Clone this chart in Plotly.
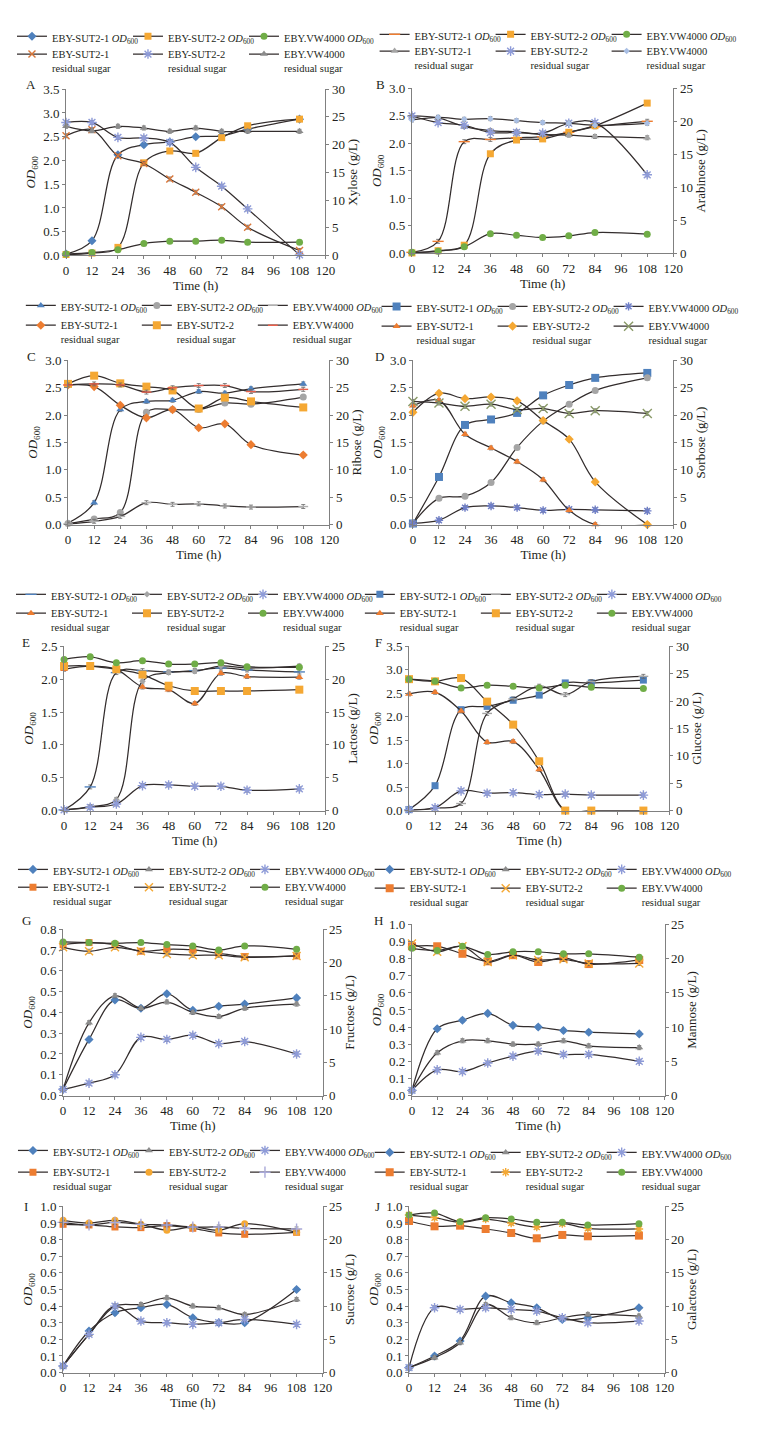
import plotly.graph_objects as go

OFF = 8                      # default page body margin
W, H = 760 - OFF, 1438 - OFF
FONT = "Liberation Serif"
TXT = "#231f20"
AXC = "#808080"
LINEC = "#332d2d"

TIME = [0, 12, 24, 36, 48, 60, 72, 84, 108]
X_TICKS = [0, 12, 24, 36, 48, 60, 72, 84, 96, 108, 120]
STRAINS = ["EBY-SUT2-1", "EBY-SUT2-2", "EBY.VW4000"]
PANEL_LABELS = ["A", "B", "C", "D", "E", "F", "G", "H", "I", "J"]
SUGARS = ["Xylose", "Arabinose", "Ribose", "Sorbose", "Lactose",
          "Glucose", "Fructose", "Mannose", "Sucrose", "Galactose"]
OD_MAX = [3.5, 3.0, 3.0, 3.0, 2.5, 3.5, 0.8, 1.0, 1.0, 1.0]
SUG_MAX = [30, 25, 30, 30, 25, 30, 25, 25, 25, 25]

# ---- A: xylose ----
A_OD_1 = [0.03, 0.31, 2.12, 2.33, 2.39, 2.50, 2.52, 2.66, 2.87]
A_OD_2 = [0.02, 0.05, 0.17, 1.95, 2.20, 2.15, 2.48, 2.73, 2.87]
A_OD_W = [0.03, 0.06, 0.12, 0.25, 0.30, 0.30, 0.32, 0.28, 0.28]
A_SUG_1 = [21.6, 22.7, 18.0, 16.6, 13.8, 11.4, 8.8, 5.1, 0.9]
A_SUG_2 = [24.0, 24.0, 21.3, 21.2, 20.4, 15.9, 12.5, 8.4, 0.1]
A_SUG_W = [23.3, 22.5, 23.3, 23.0, 22.4, 23.0, 22.4, 22.4, 22.4]
# ---- B: arabinose ----
B_OD_1 = [0.02, 0.22, 2.03, 2.07, 2.10, 2.12, 2.20, 2.30, 2.40]
B_OD_2 = [0.01, 0.05, 0.15, 1.81, 2.06, 2.08, 2.20, 2.32, 2.73]
B_OD_W = [0.02, 0.04, 0.12, 0.36, 0.33, 0.29, 0.32, 0.38, 0.35]
B_SUG_1 = [20.8, 20.5, 19.2, 18.6, 18.4, 18.0, 17.9, 17.7, 17.5]
B_SUG_2 = [20.8, 19.8, 19.4, 18.3, 18.3, 18.2, 19.7, 19.8, 11.9]
B_SUG_W = [20.2, 20.6, 20.3, 20.4, 20.1, 19.8, 19.7, 19.4, 19.7]
# ---- C: ribose ----
C_OD_1 = [0.03, 0.40, 2.10, 2.25, 2.27, 2.43, 2.40, 2.48, 2.57]
C_OD_2 = [0.02, 0.10, 0.22, 2.05, 2.10, 2.10, 2.22, 2.20, 2.33]
C_OD_W = [0.01, 0.06, 0.15, 0.40, 0.37, 0.38, 0.34, 0.32, 0.33]
C_SUG_1 = [25.5, 25.2, 21.8, 19.5, 21.0, 17.7, 18.4, 14.6, 12.7]
C_SUG_2 = [25.7, 27.2, 25.8, 25.2, 24.5, 21.2, 23.2, 22.5, 21.4]
C_SUG_W = [25.5, 25.7, 25.5, 24.2, 25.0, 25.4, 25.4, 24.3, 24.7]
# ---- D: sorbose ----
D_OD_1 = [0.02, 0.87, 1.82, 1.92, 2.04, 2.36, 2.55, 2.68, 2.77]
D_OD_2 = [0.02, 0.48, 0.52, 0.77, 1.41, 1.89, 2.20, 2.45, 2.68]
D_OD_W = [0.02, 0.08, 0.31, 0.34, 0.31, 0.26, 0.28, 0.27, 0.25]
D_SUG_1 = [21.7, 22.7, 16.5, 14.0, 11.5, 8.2, 2.6, 0.0, 0.0]
D_SUG_2 = [20.5, 24.0, 23.0, 23.3, 22.6, 19.0, 15.6, 7.8, 0.0]
D_SUG_W = [22.5, 22.2, 21.6, 22.0, 21.0, 21.2, 20.3, 20.8, 20.3]
# ---- E: lactose ----
E_OD_1 = [0.01, 0.36, 2.10, 2.13, 2.11, 2.13, 2.17, 2.14, 2.11]
E_OD_2 = [0.01, 0.06, 0.17, 1.97, 2.10, 2.12, 2.20, 2.17, 2.20]
E_OD_W = [0.01, 0.05, 0.10, 0.38, 0.39, 0.37, 0.37, 0.31, 0.33]
E_SUG_1 = [21.5, 22.0, 21.5, 18.8, 18.4, 16.3, 20.9, 20.4, 20.3]
E_SUG_2 = [22.0, 22.0, 21.5, 20.7, 19.0, 18.2, 18.2, 18.2, 18.4]
E_SUG_W = [23.0, 23.4, 22.5, 22.8, 22.3, 22.3, 22.5, 21.9, 21.8]
# ---- F: glucose ----
F_OD_1 = [0.02, 0.53, 2.15, 2.22, 2.35, 2.46, 2.72, 2.72, 2.78]
F_OD_2 = [0.00, 0.05, 0.15, 2.07, 2.38, 2.65, 2.47, 2.75, 2.86]
F_OD_W = [0.02, 0.06, 0.42, 0.37, 0.38, 0.34, 0.35, 0.33, 0.33]
F_SUG_1 = [21.3, 21.6, 18.2, 12.5, 12.6, 7.5, 0.0, 0.0, 0.0]
F_SUG_2 = [24.0, 23.6, 24.2, 19.9, 15.7, 9.0, 0.0, 0.0, 0.0]
F_SUG_W = [24.0, 23.6, 22.4, 22.9, 22.7, 22.4, 22.9, 22.5, 22.3]
# ---- G: fructose ----
G_OD_1 = [0.03, 0.27, 0.46, 0.42, 0.49, 0.41, 0.43, 0.44, 0.47]
G_OD_2 = [0.03, 0.35, 0.48, 0.42, 0.45, 0.40, 0.38, 0.42, 0.44]
G_OD_W = [0.03, 0.06, 0.10, 0.28, 0.27, 0.29, 0.25, 0.26, 0.20]
G_SUG_1 = [22.7, 23.0, 22.7, 21.7, 22.0, 21.9, 21.4, 20.9, 21.0]
G_SUG_2 = [22.3, 21.7, 22.3, 21.7, 21.3, 21.1, 21.1, 20.8, 21.0]
G_SUG_W = [23.1, 23.0, 22.9, 23.0, 22.7, 22.5, 21.9, 22.5, 22.0]
# ---- H: mannose ----
H_OD_1 = [0.03, 0.39, 0.44, 0.48, 0.41, 0.40, 0.38, 0.37, 0.36]
H_OD_2 = [0.03, 0.25, 0.32, 0.32, 0.30, 0.30, 0.32, 0.29, 0.28]
H_OD_W = [0.03, 0.15, 0.14, 0.19, 0.23, 0.26, 0.24, 0.24, 0.20]
H_SUG_1 = [21.8, 21.8, 20.7, 19.6, 20.5, 19.5, 20.1, 19.2, 19.8]
H_SUG_2 = [22.2, 21.0, 21.8, 19.5, 20.5, 19.8, 19.9, 19.3, 19.3]
H_SUG_W = [21.5, 21.2, 21.8, 20.6, 21.0, 21.0, 20.7, 20.7, 20.2]
# ---- I: sucrose ----
I_OD_1 = [0.04, 0.25, 0.36, 0.39, 0.41, 0.33, 0.30, 0.30, 0.50]
I_OD_2 = [0.04, 0.23, 0.40, 0.41, 0.45, 0.40, 0.39, 0.35, 0.44]
I_OD_W = [0.04, 0.23, 0.40, 0.31, 0.30, 0.29, 0.30, 0.32, 0.29]
I_SUG_1 = [22.3, 22.2, 21.9, 21.8, 22.1, 21.7, 21.0, 20.8, 21.1]
I_SUG_2 = [22.9, 22.5, 22.9, 22.3, 21.4, 21.9, 21.4, 22.4, 21.1]
I_SUG_W = [22.6, 22.2, 22.6, 22.3, 22.2, 21.9, 21.9, 21.7, 21.6]
# ---- J: galactose ----
J_OD_1 = [0.03, 0.10, 0.19, 0.46, 0.42, 0.39, 0.32, 0.33, 0.39]
J_OD_2 = [0.03, 0.09, 0.18, 0.41, 0.33, 0.30, 0.33, 0.35, 0.34]
J_OD_W = [0.03, 0.39, 0.38, 0.39, 0.38, 0.37, 0.33, 0.30, 0.31]
J_SUG_1 = [22.8, 22.0, 22.1, 21.6, 21.0, 20.2, 20.7, 20.5, 20.6]
J_SUG_2 = [23.7, 23.3, 22.6, 23.1, 22.5, 21.9, 22.4, 21.7, 21.6]
J_SUG_W = [23.7, 24.0, 22.7, 23.3, 23.1, 22.6, 22.6, 22.2, 22.4]

OD_DATA = [[A_OD_1, A_OD_2, A_OD_W], [B_OD_1, B_OD_2, B_OD_W], [C_OD_1, C_OD_2, C_OD_W],
           [D_OD_1, D_OD_2, D_OD_W], [E_OD_1, E_OD_2, E_OD_W], [F_OD_1, F_OD_2, F_OD_W],
           [G_OD_1, G_OD_2, G_OD_W], [H_OD_1, H_OD_2, H_OD_W], [I_OD_1, I_OD_2, I_OD_W],
           [J_OD_1, J_OD_2, J_OD_W]]
SUG_DATA = [[A_SUG_1, A_SUG_2, A_SUG_W], [B_SUG_1, B_SUG_2, B_SUG_W], [C_SUG_1, C_SUG_2, C_SUG_W],
            [D_SUG_1, D_SUG_2, D_SUG_W], [E_SUG_1, E_SUG_2, E_SUG_W], [F_SUG_1, F_SUG_2, F_SUG_W],
            [G_SUG_1, G_SUG_2, G_SUG_W], [H_SUG_1, H_SUG_2, H_SUG_W], [I_SUG_1, I_SUG_2, I_SUG_W],
            [J_SUG_1, J_SUG_2, J_SUG_W]]

# ---- styles ----
BLUE, ORANGE, GOLD, GREEN = "#4f81bd", "#ed7d31", "#f5a833", "#70ad47"
GRAY, DGRAY, LAV, LBLUE = "#a5a5a5", "#8c8c8c", "#8e9bd8", "#a9bfe4"
MARKERS = [
    [("diamond", BLUE, 7), ("square", GOLD, 7), ("circle", GREEN, 7), ("x-thin-open", "#d9773a", 7), ("asterisk-open", LAV, 8), ("triangle-up", DGRAY, 7)],
    [("line-ew-open", ORANGE, 8), ("square", GOLD, 7), ("circle", GREEN, 7), ("triangle-up", GRAY, 7), ("asterisk-open", LAV, 8), ("diamond", LBLUE, 5)],
    [("triangle-up", BLUE, 7), ("circle", GRAY, 7), ("line-ew-open", "#b0b0b0", 7), ("diamond", ORANGE, 7), ("square", GOLD, 8), ("line-ew-open", "#e8604c", 7)],
    [("square", BLUE, 8), ("circle", GRAY, 7), ("asterisk-open", "#6f7fc8", 7), ("triangle-up", ORANGE, 7), ("diamond", GOLD, 7), ("x-thin-open", "#8a9a68", 9)],
    [("line-ew-open", BLUE, 8), ("diamond", GRAY, 5), ("asterisk-open", LAV, 8), ("triangle-up", ORANGE, 7), ("square", GOLD, 8), ("circle", GREEN, 7)],
    [("square", BLUE, 7), ("line-ew-open", GRAY, 7), ("asterisk-open", LAV, 8), ("triangle-up", ORANGE, 7), ("square", GOLD, 8), ("circle", GREEN, 7)],
    [("diamond", BLUE, 7), ("triangle-up", DGRAY, 7), ("asterisk-open", LAV, 8), ("square", ORANGE, 7), ("x-thin-open", GOLD, 8), ("circle", GREEN, 7)],
    [("diamond", BLUE, 7), ("triangle-up", DGRAY, 7), ("asterisk-open", LAV, 8), ("square", ORANGE, 8), ("x-thin-open", GOLD, 8), ("circle", GREEN, 7)],
    [("diamond", BLUE, 7), ("triangle-up", DGRAY, 7), ("asterisk-open", LAV, 8), ("square", ORANGE, 7), ("circle", GOLD, 7), ("cross-thin-open", "#a8a8d8", 8)],
    [("diamond", BLUE, 7), ("triangle-up", DGRAY, 7), ("asterisk-open", LAV, 8), ("square", ORANGE, 8), ("asterisk-open", GOLD, 7), ("circle", GREEN, 7)],
]

# geometry in page pixels: plot x0, x1, y_top, y_bottom, label x, label y, legend x, legend row1 y, legend row2 y
GEOM = [
    (64, 328, 83, 251, 28, 78, 9, 31, 48),
    (416, 682, 82, 249, 384, 78, 378, 29, 45),
    (66, 332, 357, 523, 29, 353, 18, 303, 322),
    (417, 682, 357, 523, 383, 353, 380, 304, 323),
    (62, 328, 646, 812, 23, 642, 8, 595, 613),
    (413, 678, 646, 812, 382, 642, 363, 595, 613),
    (61, 325, 932, 1100, 24, 923, 10, 873, 890),
    (416, 673, 927, 1100, 382, 923, 373, 873, 891),
    (61, 325, 1212, 1380, 23, 1212, 10, 1157, 1178),
    (413, 673, 1212, 1380, 381, 1212, 373, 1159, 1178),
]

LEG_OFF1 = 15
LEG_OFF2 = 14

fig = go.Figure()
layout = dict(width=W, height=H, margin=dict(l=0, r=0, t=0, b=0), autosize=False,
              paper_bgcolor="white", plot_bgcolor="white",
              font=dict(family=FONT, size=13, color=TXT), annotations=[])


def px_x(v):
    return (v - OFF) / W


def px_y(v):
    return 1 - (v - OFF) / H


for i in range(10):
    x0, x1, yt, yb, lx, ly, legx, legy1, legy2 = GEOM[i]
    xn = "x" if i == 0 else f"x{i + 1}"
    yl = f"y{2 * i + 1}" if i > 0 else "y"
    yr = f"y{2 * i + 2}"
    xkey = "xaxis" if i == 0 else f"xaxis{i + 1}"
    ylkey = "yaxis" if i == 0 else f"yaxis{2 * i + 1}"
    yrkey = f"yaxis{2 * i + 2}"
    leg1 = "legend" if i == 0 else f"legend{2 * i + 1}"
    leg2 = f"legend{2 * i + 2}"

    axis_common = dict(showline=True, linecolor=AXC, linewidth=1, ticks="outside", ticklen=3,
                       tickcolor=AXC, showgrid=False, zeroline=False,
                       tickfont=dict(family=FONT, size=13, color=TXT))
    layout[xkey] = dict(domain=[px_x(x0), px_x(x1)], range=[0, 120], tickvals=X_TICKS,
                        anchor=yl, title=dict(text="Time (h)", standoff=0,
                                              font=dict(family=FONT, size=13, color=TXT)),
                        **axis_common)
    layout[ylkey] = dict(domain=[px_y(yb), px_y(yt)], range=[0, OD_MAX[i]],
                         dtick=0.5 if OD_MAX[i] > 2 else 0.1, tickformat=".1f", anchor=xn,
                         title=dict(text="<i>OD</i><sub>600</sub>", standoff=4,
                                    font=dict(family=FONT, size=13, color=TXT)),
                         **axis_common)
    layout[yrkey] = dict(domain=[px_y(yb), px_y(yt)], range=[0, SUG_MAX[i]], dtick=5,
                         overlaying=yl, side="right", anchor=xn,
                         title=dict(text=f"{SUGARS[i]} (g/L)", standoff=3,
                                    font=dict(family=FONT, size=13, color=TXT)),
                         **axis_common)

    for legname, ry, lo in [(leg1, legy1, LEG_OFF1), (leg2, legy2, LEG_OFF2)]:
        layout[legname] = dict(x=px_x(legx), y=px_y(ry - lo), xref="paper", yref="paper",
                               xanchor="left", yanchor="top", orientation="h",
                               entrywidth=71, entrywidthmode="pixels", itemwidth=30,
                               font=dict(family=FONT, size=10.5, color=TXT),
                               bgcolor="rgba(0,0,0,0)", borderwidth=0, valign="top",
                               traceorder="normal", tracegroupgap=0)

    layout["annotations"].append(dict(text=PANEL_LABELS[i], x=px_x(lx), y=px_y(ly),
                                      xref="paper", yref="paper", showarrow=False,
                                      xanchor="center", yanchor="middle",
                                      font=dict(family=FONT, size=13, color=TXT)))

    for j in range(6):
        sym, col, size = MARKERS[i][j]
        is_od = j < 3
        vals = OD_DATA[i][j] if is_od else SUG_DATA[i][j - 3]
        name = (f"{STRAINS[j]} <i>OD</i><sub>600</sub>" if is_od
                else f"{STRAINS[j - 3]}<br>residual sugar")
        open_sym = sym.endswith("-open")
        marker = dict(symbol=sym, color=col, size=size,
                      line=dict(color=col, width=1.4 if open_sym else 0))
        err = (OD_MAX[i] if is_od else SUG_MAX[i]) * 0.012
        extra = {}
        if j in (2, 5):
            extra["legendwidth"] = 100
        fig.add_trace(go.Scatter(
            x=TIME, y=vals, name=name, mode="lines+markers",
            line=dict(color=LINEC, width=1.25, shape="spline", smoothing=1.0),
            marker=marker, xaxis=xn, yaxis=yl if is_od else yr,
            legend=leg1 if is_od else leg2, cliponaxis=False,
            error_y=dict(type="constant", value=err, thickness=0.8, width=2, color="#666666"),
            **extra,
        ))

fig.update_layout(**layout)
fig.write_html("out.html")
